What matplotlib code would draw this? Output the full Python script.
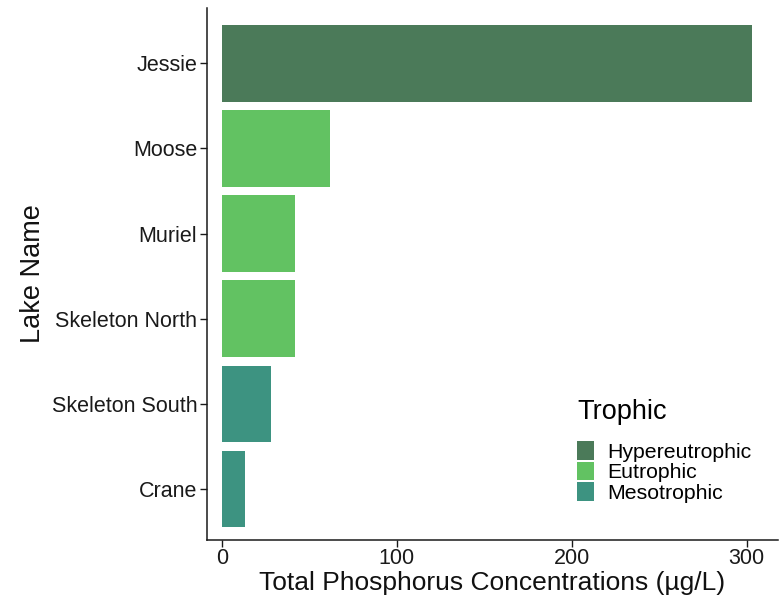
import numpy as np
import matplotlib
matplotlib.use('Agg')
import matplotlib.pyplot as plt
from matplotlib.patches import Patch

plt.rcParams['font.family'] = ['Liberation Sans', 'DejaVu Sans']

lakes = ["Crane", "Skeleton South", "Skeleton North", "Muriel", "Moose", "Jessie"]
phosphorus = [13, 28, 42, 42, 62, 303]
trophic = ["Mesotrophic", "Mesotrophic", "Eutrophic", "Eutrophic", "Eutrophic", "Hypereutrophic"]

levels = ["Hypereutrophic", "Eutrophic", "Mesotrophic"]
palette = {"Hypereutrophic": "#4b7a59", "Eutrophic": "#62c262", "Mesotrophic": "#3d9381"}

fig = plt.figure(figsize=(7.82, 6.01), dpi=100)
ax = fig.add_axes([207/782, 61/601, 571/782, 532/601])

ypos = np.arange(len(lakes))
ax.barh(ypos, phosphorus, height=0.9, color=[palette[t] for t in trophic])

ax.set_yticks(ypos)
ax.set_yticklabels(lakes, fontsize=15.5, color='#1a1a1a')
ax.set_xticks([0, 100, 200, 300])
ax.tick_params(axis='x', labelsize=15.5, colors='#1a1a1a', length=5, width=1, pad=1)
ax.tick_params(axis='y', length=5, width=1, colors='#1a1a1a', pad=2)
ax.set_xlim(-8.5, 318)
ax.set_ylim(-0.6, 5.65)

for s in ['top', 'right']:
    ax.spines[s].set_visible(False)
for s in ['left', 'bottom']:
    ax.spines[s].set_linewidth(1.1)
    ax.spines[s].set_color('#1a1a1a')

ax.set_xlabel("Total Phosphorus Concentrations (µg/L)", fontsize=19, labelpad=1, color='#111111')
ax.set_ylabel("Lake Name", fontsize=19.5, labelpad=4, color='#111111')

handles = [Patch(facecolor=palette[l], edgecolor='none', label=l) for l in levels]
leg = ax.legend(handles=handles, title="Trophic", loc='lower left', bbox_to_anchor=(0.63, 0.05),
                frameon=False, fontsize=15.3, title_fontsize=19.5, labelspacing=0.0,
                handlelength=0.8, handleheight=0.95, handletextpad=0.6, borderpad=0)
leg._legend_box.align = 'left'
leg._legend_box.sep = 12

fig.savefig("out.png", dpi=100)
